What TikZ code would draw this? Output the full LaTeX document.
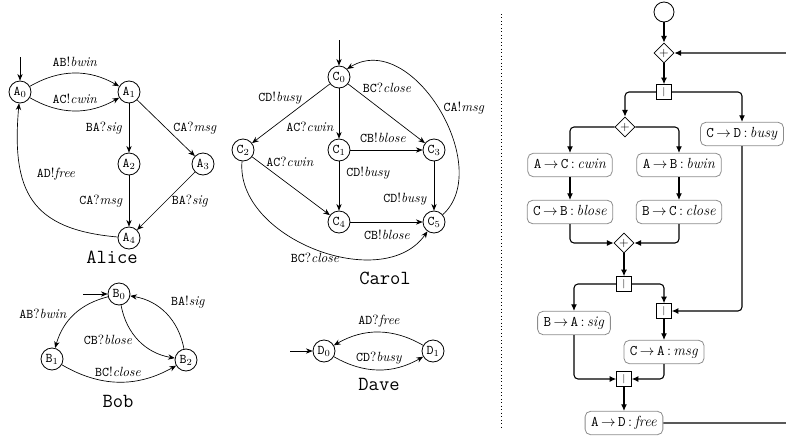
\documentclass[tikz,border=0pt]{standalone}
\usetikzlibrary{arrows.meta,shapes.geometric}
\newcommand\chlab[3]{\texttt{#1}#2\textit{#3}}
\newcommand\msgtxt[3]{\texttt{#1}\,$\rightarrow$\,\texttt{#2}\,:\,\textit{#3}}
\begin{document}
\begin{tikzpicture}[x=0.75pt,y=0.75pt,
  st/.style={circle,draw,line width=0.6pt,minimum size=16.5pt,inner sep=0pt},
  tr/.style={line width=0.5pt,-{Stealth[length=5pt,width=4pt]}},
  lbl/.style={inner sep=0pt},
  ttl/.style={font=\fontsize{15}{18}\selectfont\ttfamily,inner sep=0pt},
  msgbox/.style={draw=black!45,rounded corners=4pt,line width=0.6pt,inner xsep=4.5pt,
    minimum height=17.5pt,text height=7.5pt,text depth=2.2pt,font=\fontsize{11}{13}\selectfont},
  gate/.style={diamond,draw,aspect=1,minimum size=15pt,inner sep=0pt,line width=0.6pt},
  bar/.style={rectangle,draw,minimum size=11pt,inner sep=0pt,line width=0.6pt},
  flow/.style={line width=0.8pt,rounded corners=3pt,-{Latex[length=5pt,width=4.5pt]}},
]
\useasboundingbox (0,0) rectangle (786,-436);
\clip (0,0) rectangle (786,-436);

% ---------- Alice ----------
\node[st] (A0) at (20,-92) {$\mathtt{A}_0$};
\node[st] (A1) at (129,-92) {$\mathtt{A}_1$};
\node[st] (A2) at (129,-164) {$\mathtt{A}_2$};
\node[st] (A3) at (203,-164) {$\mathtt{A}_3$};
\node[st] (A4) at (129,-238) {$\mathtt{A}_4$};
\coordinate (A0i) at (20,-57);
\draw[tr] (A0i) -- (A0);
\draw[tr] (A0) to[bend left=30] (A1);
\draw[tr] (A0) to[bend right=30] (A1);
\draw[tr] (A1) -- (A2);
\draw[tr] (A1) -- (A3);
\draw[tr] (A2) -- (A4);
\draw[tr] (A3) -- (A4);
\draw[tr] (A4) to[out=175,in=265,looseness=1.35] (A0);
\node[lbl] (la1) at (75,-62) {\chlab{AB}{!}{bwin}};
\node[lbl] (la2) at (75,-99) {\chlab{AC}{!}{cwin}};
\node[lbl] (la3) at (104,-128) {\chlab{BA}{?}{sig}};
\node[lbl] (la4) at (195,-128) {\chlab{CA}{?}{msg}};
\node[lbl] (la5) at (101,-201) {\chlab{CA}{?}{msg}};
\node[lbl] (la6) at (190,-201) {\chlab{BA}{?}{sig}};
\node[lbl] (la7) at (56,-174) {\chlab{AD}{!}{free}};
\node[ttl] (tA) at (112,-257) {Alice};

% ---------- Carol ----------
\node[st] (C0) at (339,-77) {$\mathtt{C}_0$};
\node[st] (C1) at (339,-150) {$\mathtt{C}_1$};
\node[st] (C2) at (243,-150) {$\mathtt{C}_2$};
\node[st] (C3) at (434,-150) {$\mathtt{C}_3$};
\node[st] (C4) at (339,-222) {$\mathtt{C}_4$};
\node[st] (C5) at (434,-222) {$\mathtt{C}_5$};
\coordinate (C0i) at (339,-40);
\draw[tr] (C0i) -- (C0);
\draw[tr] (C0) -- (C2);
\draw[tr] (C0) -- (C1);
\draw[tr] (C0) -- (C3);
\draw[tr] (C1) -- (C3);
\draw[tr] (C1) -- (C4);
\draw[tr] (C3) -- (C5);
\draw[tr] (C2) -- (C4);
\draw[tr] (C4) -- (C5);
\draw[tr] (C2) to[out=265,in=235] (C5);
\draw[tr] (C5.40) .. controls +(52,47) and +(65,40) .. (C0.45);
\node[lbl] (lc1) at (280,-98) {\chlab{CD}{!}{busy}};
\node[lbl] (lc2) at (387,-88) {\chlab{BC}{?}{close}};
\node[lbl] (lc3) at (310,-127) {\chlab{AC}{?}{cwin}};
\node[lbl] (lc4) at (383,-138) {\chlab{CB}{!}{blose}};
\node[lbl] (lc5) at (464,-108) {\chlab{CA}{!}{msg}};
\node[lbl] (lc6) at (290,-162) {\chlab{AC}{?}{cwin}};
\node[lbl] (lc7) at (368,-173) {\chlab{CD}{!}{busy}};
\node[lbl] (lc8) at (405,-199) {\chlab{CD}{!}{busy}};
\node[lbl] (lc9) at (387,-235) {\chlab{CB}{!}{blose}};
\node[lbl] (lc10) at (315,-258) {\chlab{BC}{?}{close}};
\node[ttl] (tC) at (385,-278) {Carol};

% ---------- Bob ----------
\node[st] (B0) at (119,-294) {$\mathtt{B}_0$};
\node[st] (B1) at (52,-359) {$\mathtt{B}_1$};
\node[st] (B2) at (186,-360) {$\mathtt{B}_2$};
\coordinate (B0i) at (83,-294);
\draw[tr] (B0i) -- (B0);
\draw[tr] (B0) to[bend right=30] (B1);
\draw[tr] (B0) to[bend right=35] (B2);
\draw[tr] (B2) to[bend right=35] (B0);
\draw[tr] (B1) to[bend right=30] (B2);
\node[lbl] (lb1) at (43,-314) {\chlab{AB}{?}{bwin}};
\node[lbl] (lb2) at (108,-340) {\chlab{CB}{?}{blose}};
\node[lbl] (lb3) at (188,-302) {\chlab{BA}{!}{sig}};
\node[lbl] (lb4) at (118,-372) {\chlab{BC}{!}{close}};
\node[ttl] (tB) at (118,-401) {Bob};

% ---------- Dave ----------
\node[st] (D0) at (324,-351) {$\mathtt{D}_0$};
\node[st] (D1) at (433,-351) {$\mathtt{D}_1$};
\coordinate (D0i) at (290,-351);
\draw[tr] (D0i) -- (D0);
\draw[tr] (D1) to[bend right=30] (D0);
\draw[tr] (D0) to[bend right=30] (D1);
\node[lbl] (ld1) at (379,-321) {\chlab{AD}{?}{free}};
\node[lbl] (ld2) at (379,-358) {\chlab{CD}{?}{busy}};
\node[ttl] (tD) at (379,-384) {Dave};

% ---------- separator ----------
\coordinate (sepT) at (501,-14);
\coordinate (sepB) at (501,-428);
\draw[dotted,line width=0.6pt] (sepT) -- (sepB);

% ---------- global graph ----------
\node[circle,draw,minimum size=15pt,inner sep=0pt,line width=0.6pt] (S) at (664,-12) {};
\node[gate] (P1) at (664,-53) {\small$+$};
\node[bar] (J1) at (664,-92) {\scriptsize$|$};
\node[gate] (P2) at (625,-127) {\small$+$};
\node[msgbox] (busy) at (742,-134) {\msgtxt{C}{D}{busy}};
\node[msgbox] (cwin) at (570,-165) {\msgtxt{A}{C}{cwin}};
\node[msgbox] (bwin) at (679,-165) {\msgtxt{A}{B}{bwin}};
\node[msgbox] (blose) at (570,-212) {\msgtxt{C}{B}{blose}};
\node[msgbox] (close) at (679,-212) {\msgtxt{B}{C}{close}};
\node[gate] (P3) at (624,-243) {\small$+$};
\node[bar] (J2) at (624,-284) {\scriptsize$|$};
\node[msgbox] (sig) at (574,-323) {\msgtxt{B}{A}{sig}};
\node[bar] (J3) at (664,-311) {\scriptsize$|$};
\node[msgbox] (msg) at (664,-352) {\msgtxt{C}{A}{msg}};
\node[bar] (J4) at (624,-379) {\scriptsize$|$};
\node[msgbox] (free) at (624,-423) {\msgtxt{A}{D}{free}};
\coordinate (loopB) at (810,-423);
\coordinate (loopT) at (810,-53);

\draw[flow] (S) -- (P1);
\draw[flow] (P1) -- (J1);
\draw[flow] (J1.west) -| (P2.north);
\draw[flow] (J1.east) -| (busy.north);
\draw[flow] (P2.west) -| (cwin.north);
\draw[flow] (P2.east) -| (bwin.north);
\draw[flow] (cwin) -- (blose);
\draw[flow] (bwin) -- (close);
\draw[flow] (blose.south) |- (P3.west);
\draw[flow] (close.south) |- (P3.east);
\draw[flow] (P3) -- (J2);
\draw[flow] (J2.west) -| (sig.north);
\draw[flow] (J2.east) -| (J3.north);
\draw[flow] (busy.south) |- (J3.east);
\draw[flow] (J3) -- (msg);
\draw[flow] (sig.south) |- (J4.west);
\draw[flow] (msg.south) |- (J4.east);
\draw[flow] (J4) -- (free);
\draw[flow] (free.east) -- (loopB) -- (loopT) -- (P1.east);
\end{tikzpicture}
\end{document}
